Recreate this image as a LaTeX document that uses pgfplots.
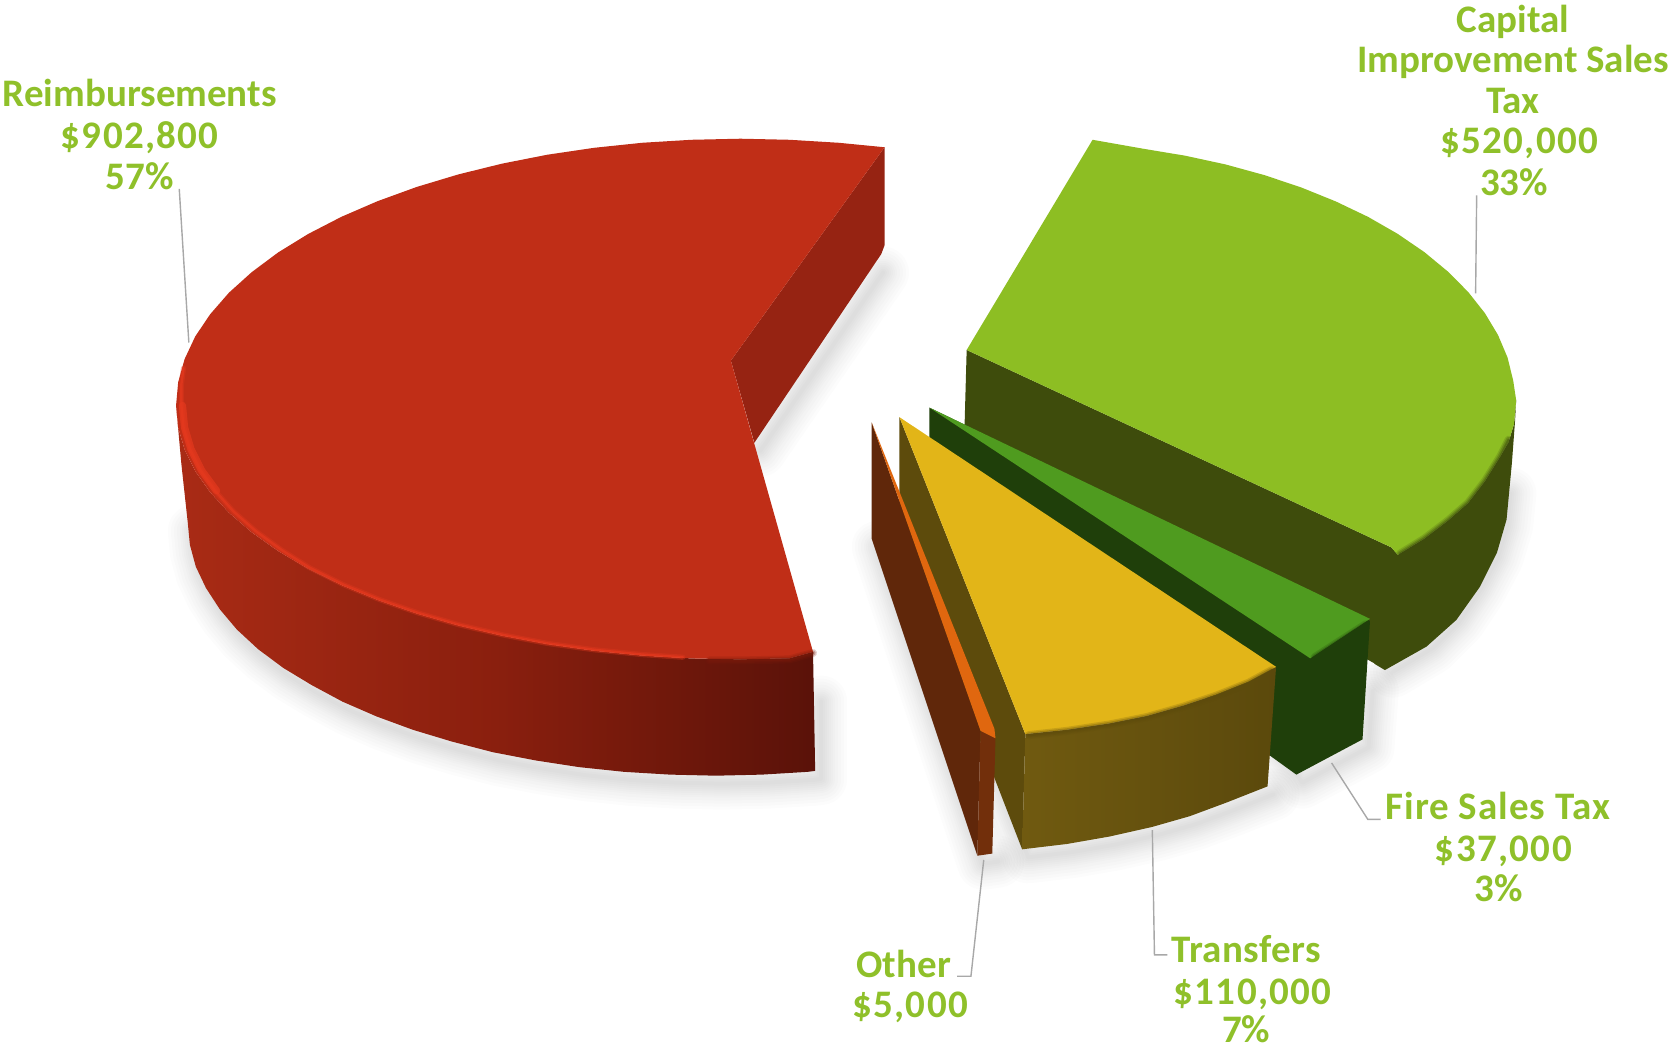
\documentclass[border=0pt]{standalone}
\usepackage{fontspec}
\setmainfont{Carlito}
\usepackage{pgfplots}
\usepackage{pgfplotstable}
\pgfplotsset{compat=1.18}
\definecolor{lab}{HTML}{8FC02A}
\definecolor{lead}{HTML}{A8A8A8}
\definecolor{redtop}{HTML}{C02E17}
\definecolor{redwall}{HTML}{962312}
\definecolor{redL}{HTML}{A92B15}
\definecolor{redM}{HTML}{8A1F0E}
\definecolor{redR}{HTML}{5A1209}
\definecolor{redrimc}{HTML}{7A1A0B}
\definecolor{redridge}{HTML}{E5391E}
\definecolor{captop}{HTML}{8DBE23}
\definecolor{capwall}{HTML}{3E4C0C}
\definecolor{firetop}{HTML}{4F9B1F}
\definecolor{firewall}{HTML}{1F3F0A}
\definecolor{yeltop}{HTML}{E2B518}
\definecolor{yelwall}{HTML}{5D4B0C}
\definecolor{yelL}{HTML}{705A10}
\definecolor{yelR}{HTML}{5B490C}
\definecolor{othtop}{HTML}{E0670F}
\definecolor{othwall}{HTML}{60270A}
\definecolor{othout}{HTML}{722F0B}
% --- Reimbursements
\pgfplotstableread{
829 138
786 133.8
740 131
694 130
648 131
602 133.8
557 138.5
513 145
470.4 153.4
429.5 163.5
390.6 175.2
354 188.5
320 203.2
288.8 219.3
260.7 236.6
236 255
214.6 274.3
197 294.5
183 315.3
173 336.6
167 358.2
165 380
167 400.7
173 421.3
183 441.6
197 461.4
214.6 480.6
236 499
260.7 516.5
288.8 533
320 548.3
354 562.3
390.6 575
429.5 586.1
470.4 595.7
513 603.6
557 609.9
602 614.4
648 617.1
694 618
740 617
762 611
685 338
}\redTop
\pgfplotstableread{
829 138
829 230
826 238
707 415
685 338
}\redWall
\pgfplotstableread{
822 248
707 415
}\redWallS
\pgfplotstableread{
165 380
167 400.7
173 421.3
183 441.6
197 461.4
214.6 480.6
236 499
260.7 516.5
288.8 533
320 548.3
354 562.3
390.6 575
429.5 586.1
470.4 595.7
513 603.6
557 609.9
602 614.4
648 617.1
694 618
740 617
762 611
764 722.5
757 723.4
714 726
671 727
628 726
585 723.4
543 719
502 712.7
462 705
423.5 695
387 684
353 671.5
321 657.6
292 642
265.5 626
242 608.5
222 590
206 571
193 551
183.5 531
178 510.7
176 490
170 435
}\redSide
\pgfplotstableread{
172 345
170 360
170 380
172 400.7
178 421
188 441
202 460.5
219 479.5
240 498
264 515.5
290 532
322 548
356 562
392 574.5
430 585.5
471 595
513 603
557 609
602 613.5
640 616
}\redRidge
\pgfplotstableread{
171 380
173 400.7
179 421
189 441
203 460
}\redGlow
\pgfplotstableread{
665 619
694 619
740 618
762 612
}\redRim
% --- Capital
\pgfplotstableread{
1024 131
1071.6 139.4
1110.7 145.9
1148.6 154.1
1185 164.1
1219.6 175.7
1252 188.8
1282.3 203.3
1310 219.2
1335 236.3
1357 254.5
1376 273.6
1391.7 293.5
1404 314
1412.9 335
1418.2 356.5
1421 375
1419 397.3
1414 414
1406 428
1391.7 451
1376 471.4
1357 488
1335 504.8
1310 520
1304 513
906 328
}\capTop
\pgfplotstableread{
906 328
1304 513
1311 521
1298 627
1285 620
904 400
}\capInner
\pgfplotstableread{
1421 375
1419 397.3
1414 414
1406 428
1391.7 451
1376 471.4
1357 488
1335 504.8
1310 520
1296 522
1288 622
1298 628
1337 606
1365 581
1387 550
1403 518
1412 487
1417 434
1420 394
}\capOuter
\pgfplotstableread{
1300 622
1337 600
1362 575
1382 545
1398 515
1407 485
1410 455
}\capOuterS
\pgfplotstableread{
1414 412
1406 428
1391.7 451
1376 471.4
1357 488
1335 504.8
1312 519
}\capRim
% --- Fire Sales Tax
\pgfplotstableread{
871 382
1284 580
1228 617
}\fireTop
\pgfplotstableread{
871 382
1284 582
1277 693
1215 726
1190 708
871 412
}\fireWall
\pgfplotstableread{
1280 585
1232 616
}\fireRim
% --- Transfers
\pgfplotstableread{
843 391
1196 625
1170 639
1140 651
1110 661
1075 671
1040 678
1000 684
961 688
}\yelTop
\pgfplotstableread{
843 391
961 688
958 796
843 500
}\yelLeft
\pgfplotstableread{
961 688
1000 684
1040 678
1075 671
1110 661
1140 651
1170 639
1196 625
1188 737
1150 752
1115 765
1080 775
1040 784
1000 791
958 796
}\yelSide
\pgfplotstableread{
964 689
1000 685
1040 679
1075 672
1110 662
1140 652
1170 640
1192 628
}\yelRim
% --- Other
\pgfplotstableread{
817 396
932 683
933 692
919 685
}\othTop
\pgfplotstableread{
817 396
919 685
916 802
817 505
}\othWall
\pgfplotstableread{
919 685
933 692
930 800
916 802
}\othOuter
\pgfplotstableread{
843 500
958 796
1000 791
1040 784
1080 775
1115 765
1150 752
1188 737
}\yelS
\pgfplotstableread{
817 505
916 802
930 800
}\othS
\pgfplotstableread{
1195 700
1215 726
1277 693
1281 640
}\fireS
\pgfplotstableread{
176 490
178 510.7
183.5 531
193 551
206 571
222 590
242 608.5
265.5 626
292 642
321 657.6
353 671.5
387 684
423.5 695
462 705
502 712.7
543 719
585 723.4
628 726
671 727
714 726
757 723.4
764 722.5
764 650
}\redS
\newcommand{\sh}[2]{\addplot[draw=black,opacity=.013,line width=#1pt,line join=round,line cap=round,xshift=3pt,yshift=-4pt] table {#2};}
\newcommand{\softshadow}[1]{%
  \sh{26}{#1}\sh{23}{#1}\sh{20}{#1}\sh{17}{#1}\sh{14}{#1}\sh{12}{#1}\sh{10}{#1}\sh{8}{#1}\sh{6}{#1}\sh{4}{#1}\sh{2}{#1}
}
\newcommand{\rim}[2]{%
  \addplot[draw=#1,line width=4pt,opacity=.2,line cap=round] table {#2};
  \addplot[draw=#1,line width=2.6pt,opacity=.3,line cap=round] table {#2};
  \addplot[draw=#1,line width=1.2pt,opacity=.45,line cap=round] table {#2};
}
\newcommand{\lab}[4][0]{\node[anchor=base,text=lab,font=\fontsize{19.5}{20}\selectfont\bfseries\addfontfeatures{LetterSpace=#1},inner sep=0pt] at (axis cs:#2,#3) {#4};}
\begin{document}
\begin{tikzpicture}
\begin{axis}[
  width=836.5pt,height=523.5pt,scale only axis,
  xmin=0,xmax=1568,ymin=0,ymax=981.3,y dir=reverse,
  hide axis,clip=false]
\softshadow{\redS}
\softshadow{\redWallS}
\softshadow{\capOuterS}
\softshadow{\fireS}
\softshadow{\yelS}
\softshadow{\othS}
% Reimbursements
\addplot[fill=redwall,draw=none] table {\redWall};
\addplot[left color=redL,right color=redR,middle color=redM,draw=none] table {\redSide};
\addplot[fill=redtop,draw=none] table {\redTop};
\addplot[draw=redridge,line width=2.6pt,opacity=.35,line cap=round] table {\redRidge};
\addplot[draw=redridge,line width=1.2pt,opacity=.7,line cap=round] table {\redRidge};
\addplot[draw=redridge,line width=3.6pt,opacity=.7,line cap=round] table {\redGlow};
\rim{redrimc}{\redRim}
% Capital
\addplot[fill=capwall,draw=none] table {\capInner};
\addplot[fill=capwall,draw=none] table {\capOuter};
\addplot[fill=captop,draw=none] table {\capTop};
\rim{capwall}{\capRim}
% Fire
\addplot[fill=firewall,draw=none] table {\fireWall};
\addplot[fill=firetop,draw=none] table {\fireTop};
\rim{firewall}{\fireRim}
% Transfers
\addplot[fill=yelwall,draw=none] table {\yelLeft};
\addplot[left color=yelL,right color=yelR,draw=none] table {\yelSide};
\addplot[fill=yeltop,draw=none] table {\yelTop};
\rim{yelwall}{\yelRim}
% Other
\addplot[fill=othwall,draw=none] table {\othWall};
\addplot[fill=othout,draw=none] table {\othOuter};
\addplot[fill=othtop,draw=none] table {\othTop};
% leaders
\addplot[draw=lead,line width=.7pt] coordinates {(168,177) (177,321)};
\addplot[draw=lead,line width=.7pt] coordinates {(1384,183) (1383,275)};
\addplot[draw=lead,line width=.7pt] coordinates {(1248,715) (1282,768) (1294,768)};
\addplot[draw=lead,line width=.7pt] coordinates {(1080,778) (1082,895) (1094,895)};
\addplot[draw=lead,line width=.7pt] coordinates {(922,806) (910,915) (897,915)};
% labels
\lab{131}{100}{Reimbursements}
\lab[3.5]{131}{139}{\$902,800}
\lab{131}{178}{57\%}
\lab{1418}{30}{Capital}
\lab{1418}{68}{Improvement Sales}
\lab{1418}{106}{Tax}
\lab[3.5]{1424}{144}{\$520,000}
\lab{1419}{183}{33\%}
\lab[2.5]{1404}{768}{Fire Sales Tax}
\lab[3.5]{1409}{807}{\$37,000}
\lab{1405}{845}{3\%}
\lab[1]{1168}{902}{Transfers}
\lab[3.5]{1174}{941}{\$110,000}
\lab{1168}{977.5}{7\%}
\lab{847}{916}{Other}
\lab[3.5]{853}{954}{\$5,000}
\end{axis}
\pgfresetboundingbox
\useasboundingbox (current axis.south west) rectangle (current axis.north east);
\end{tikzpicture}
\end{document}
